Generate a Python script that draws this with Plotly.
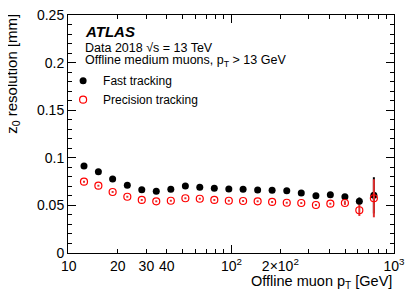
import plotly.graph_objects as go

pt = [12.4, 15.2, 18.6, 22.9, 28.1, 34.5, 42.4, 52.1, 63.9, 78.5, 96.4,
      118, 145, 178, 219, 269, 331, 406, 499, 612, 752]
fast = [0.0914, 0.0854, 0.0777, 0.0711, 0.0665, 0.0648, 0.0669, 0.0704, 0.0691,
        0.0680, 0.0672, 0.0669, 0.0662, 0.0659, 0.0654, 0.0630, 0.0602, 0.0612,
        0.0591, 0.0543, 0.0606]
fast_err = [0.001] * 18 + [0.002, 0.004, 0.019]
prec = [0.0749, 0.0707, 0.0641, 0.0591, 0.0557, 0.0543, 0.0549, 0.0575, 0.0570,
        0.0557, 0.0549, 0.0546, 0.0543, 0.0536, 0.0528, 0.0525, 0.0504, 0.0518,
        0.0525, 0.0449, 0.0575]
prec_err = [0.001] * 18 + [0.002, 0.006, 0.020]

x_label_vals = [10, 20, 30, 40, 100, 200, 1000]
x_label_text = ["10", "20", "30", "40", "10<sup>2</sup>", "2×10<sup>2</sup>", "10<sup>3</sup>"]
x_decades = [10, 100, 1000]
x_minor = [50, 60, 70, 80, 90, 300, 400, 500, 600, 700, 800, 900]
y_vals = [0, 0.05, 0.1, 0.15, 0.2, 0.25]
y_text = ["0", "0.05", "0.1", "0.15", "0.2", "0.25"]

FONT = "Liberation Sans, Arial, Helvetica, sans-serif"

fig = go.Figure()
fig.add_trace(go.Scatter(
    x=pt, y=fast, mode="markers", name="Fast tracking",
    marker=dict(symbol="circle", size=7, color="black"),
    error_y=dict(type="data", array=fast_err, color="black", thickness=2, width=0),
))
fig.add_trace(go.Scatter(
    x=pt, y=prec, mode="markers", name="Precision tracking",
    marker=dict(symbol="circle-open", size=7, color="#ff0000", line=dict(width=1.2)),
    error_y=dict(type="data", array=prec_err, color="#e03030", thickness=2, width=0),
))
# invisible traces to activate the overlay axes
fig.add_trace(go.Scatter(x=[pt[0]], y=[fast[0]], xaxis="x2", mode="markers",
                         marker=dict(opacity=0), showlegend=False, hoverinfo="skip"))
fig.add_trace(go.Scatter(x=[pt[0]], y=[fast[0]], xaxis="x3", mode="markers",
                         marker=dict(opacity=0), showlegend=False, hoverinfo="skip"))

xr = [0.995, 3.0]
common_x = dict(type="log", range=xr, showgrid=False, zeroline=False, tickcolor="black",
                automargin=False)
fig.update_layout(
    width=407, height=290,
    margin=dict(l=60, r=21, t=7, b=45, autoexpand=False),
    paper_bgcolor="white", plot_bgcolor="white",
    font=dict(family=FONT, color="black", size=14),
    showlegend=True,
    legend=dict(x=-0.015, y=0.785, xanchor="left", yanchor="top",
                font=dict(size=12, family=FONT), bgcolor="rgba(0,0,0,0)",
                itemwidth=30, tracegroupgap=0),
    xaxis=dict(**common_x, tickvals=x_label_vals, ticktext=x_label_text,
               ticks="inside", ticklen=4, showline=True, linecolor="black",
               linewidth=1, mirror="ticks", tickfont=dict(size=14),
               ticklabeloverflow="allow"),
    xaxis2=dict(**common_x, tickvals=x_decades, overlaying="x", anchor="y",
                side="bottom", ticks="inside", ticklen=8, showticklabels=False,
                showline=False, mirror="ticks"),
    xaxis3=dict(**common_x, tickvals=x_minor, overlaying="x", anchor="y",
                side="bottom", ticks="inside", ticklen=4, showticklabels=False,
                showline=False, mirror="ticks"),
    yaxis=dict(range=[0, 0.25], tickvals=y_vals, ticktext=y_text,
               ticks="inside", ticklen=8, tickcolor="black",
               minor=dict(dtick=0.01, ticks="inside", ticklen=4, tickcolor="black"),
               showgrid=False, zeroline=False, showline=True, linecolor="black",
               linewidth=1, mirror="ticks", tickfont=dict(size=14),
               ticklabeloverflow="allow", automargin=False),
)

fig.add_annotation(text="<b><i>ATLAS</i></b>", xref="paper", yref="paper",
                   x=0.045, y=0.929, xanchor="left", yanchor="middle",
                   showarrow=False, font=dict(size=15, family=FONT))
fig.add_annotation(text="Data 2018 √s = 13 TeV", xref="paper", yref="paper",
                   x=0.045, y=0.861, xanchor="left", yanchor="middle",
                   showarrow=False, font=dict(size=12.5, family=FONT))
fig.add_annotation(text="Offline medium muons, p<sub>T</sub> > 13 GeV", xref="paper", yref="paper",
                   x=0.045, y=0.805, xanchor="left", yanchor="middle",
                   showarrow=False, font=dict(size=12.5, family=FONT))
fig.add_annotation(text="Offline muon p<sub>T</sub> [GeV]", xref="paper", yref="paper",
                   x=1.0, y=-0.12, xanchor="right", yanchor="middle",
                   showarrow=False, font=dict(size=14.5, family=FONT))
fig.add_annotation(text="z<sub>0</sub> resolution [mm]", xref="paper", yref="paper",
                   x=-0.169, y=1.013, xanchor="center", yanchor="top", textangle=-90,
                   showarrow=False, font=dict(size=15, family=FONT))

fig.write_html("out.html")
